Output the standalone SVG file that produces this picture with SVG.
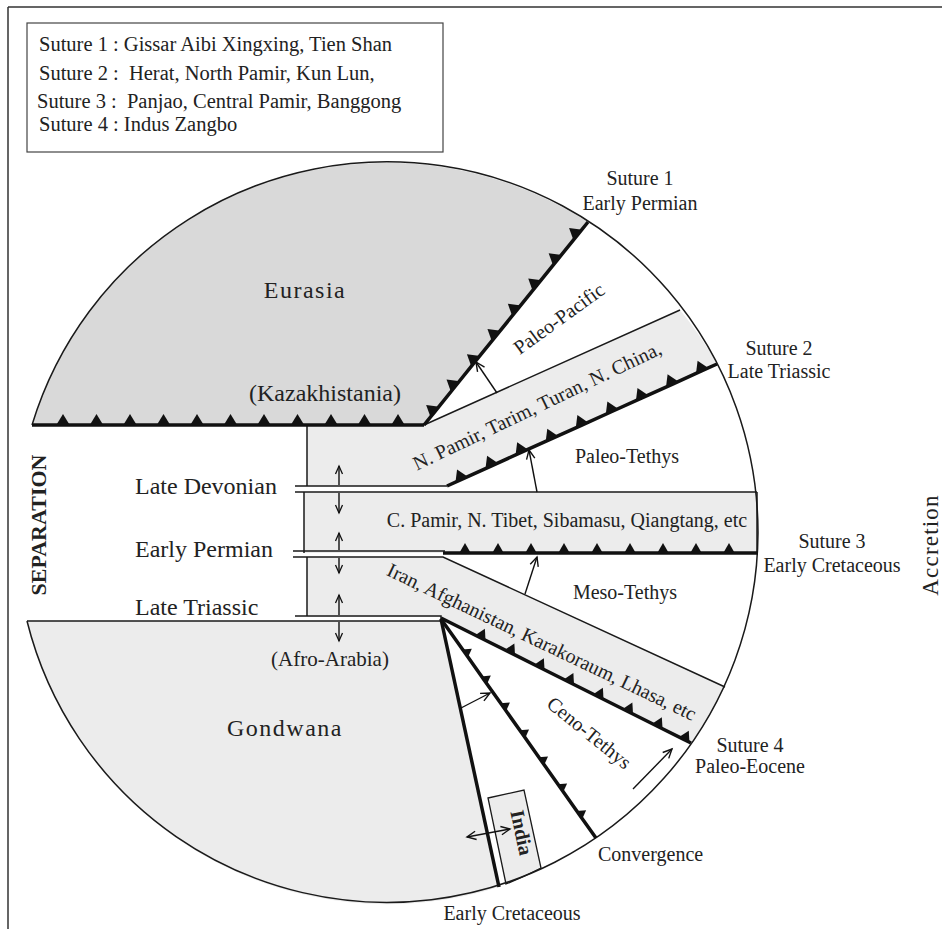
<svg xmlns="http://www.w3.org/2000/svg" width="943" height="929" viewBox="0 0 943 929">
<defs>
<style>
.t{font-family:"Liberation Serif","Times New Roman",serif;fill:#222;}
.f20{font-size:20px}
.lg{font-size:20.5px}
.f24{font-size:24px}
.sp{letter-spacing:1.5px}
.thin{fill:none;stroke:#1a1a1a;stroke-width:1.5}
.thick{fill:none;stroke:#111;stroke-width:3.5}
.arr{fill:none;stroke:#111;stroke-width:1.4;marker-end:url(#ah)}
.sarr{fill:none;stroke:#111;stroke-width:1.4;marker-end:url(#ahs)}
.light{fill:#ececec}
.dark{fill:#d9d9d9}
</style>
<marker id="tb" markerUnits="userSpaceOnUse" markerWidth="20" markerHeight="20" viewBox="-10 -15 20 20" refX="0" refY="0" orient="auto" overflow="visible"><path d="M-7,0.5 L0,-11 L7,0.5 Z" fill="#111"/></marker>
<marker id="tm" markerUnits="userSpaceOnUse" markerWidth="20" markerHeight="20" viewBox="-10 -15 20 20" refX="0" refY="0" orient="auto" overflow="visible"><path d="M-6,0.5 L0,-10 L6,0.5 Z" fill="#111"/></marker>
<marker id="ts" markerUnits="userSpaceOnUse" markerWidth="20" markerHeight="20" viewBox="-10 -15 20 20" refX="0" refY="0" orient="auto" overflow="visible"><path d="M-5,0.5 L0,-8 L5,0.5 Z" fill="#111"/></marker>
<marker id="ah" markerUnits="userSpaceOnUse" markerWidth="14" markerHeight="14" viewBox="-12 -7 14 14" refX="0" refY="0" orient="auto-start-reverse" overflow="visible"><path d="M-9,-4.2 L0,0 L-9,4.2" fill="none" stroke="#111" stroke-width="1.4"/></marker>
<marker id="ahs" markerUnits="userSpaceOnUse" markerWidth="14" markerHeight="14" viewBox="-12 -7 14 14" refX="0" refY="0" orient="auto-start-reverse" overflow="visible"><path d="M-8,-3.5 L0,0 L-8,3.5" fill="none" stroke="#111" stroke-width="1.3"/></marker>
</defs>
<rect width="943" height="929" fill="#fff"/>
<g id="frame">
<path d="M8,7 L942,7 M8,7 L8,929" fill="none" stroke="#333" stroke-width="1.5"/>
</g>
<g id="legend">
<rect x="27" y="23" width="416" height="129" fill="#fff" stroke="#444" stroke-width="1.2"/>
<text class="t lg" x="39" y="51" xml:space="preserve">Suture 1 : Gissar Aibi Xingxing, Tien Shan</text>
<text class="t lg" x="39" y="80" xml:space="preserve">Suture 2 :  Herat, North Pamir, Kun Lun,</text>
<text class="t lg" x="37" y="108" xml:space="preserve">Suture 3 :  Panjao, Central Pamir, Banggong</text>
<text class="t lg" x="39" y="131" xml:space="preserve">Suture 4 : Indus Zangbo</text>
</g>
<g id="eurasia">
<path class="dark" d="M32,425 A371,371 0 0,1 588,222 L424,425 Z"/>
<text class="t f24 sp" x="305" y="298" text-anchor="middle">Eurasia</text>
<text class="t f24" x="325" y="401" text-anchor="middle">(Kazakhistania)</text>
</g>
<g id="n-pamir-band">
<path class="light" d="M307,425 L424,425 L680,310 A371,371 0 0,1 717,364 L447,486 L307,486 Z"/>
<text class="t f20" x="540" y="412" text-anchor="middle" transform="rotate(-25.5 540 412)">N. Pamir, Tarim, Turan, N. China,</text>
</g>
<g id="c-pamir-band">
<rect class="light" x="304" y="492" width="453" height="61"/>
<text class="t f20" x="567" y="527" text-anchor="middle">C. Pamir, N. Tibet, Sibamasu, Qiangtang, etc</text>
</g>
<g id="iran-band">
<path class="light" d="M307,557 L443,557 L725,687 A371,371 0 0,1 691,743 L441,617 L307,617 Z"/>
<text class="t f20" x="539" y="648" text-anchor="middle" transform="rotate(25.5 539 648)">Iran, Afghanistan, Karakoraum, Lhasa, etc</text>
</g>
<g id="gondwana">
<path class="light" d="M27,621 L441,621 L499,887 A371,371 0 0,1 27,621 Z"/>
<text class="t f24 sp" x="285" y="736" text-anchor="middle">Gondwana</text>
<text class="t" x="330" y="666" font-size="21" text-anchor="middle">(Afro-Arabia)</text>
</g>
<g id="india">
<path d="M488,798 L524,790 L541,868 A371,371 0 0,1 506,884 Z" fill="#ececec" stroke="#1a1a1a" stroke-width="1.3"/>
<text class="t f20" x="515" y="834" text-anchor="middle" font-weight="bold" transform="rotate(78 515 834)">India</text>
</g>
<g id="outlines">
<path class="thin" d="M32,425 A371,371 0 0,1 758,533 A371,371 0 0,1 27,621"/>
<path class="thin" d="M424,425 L680,310 M307,425 L307,486 M295,486 L447,486 M295,492 L757,492 M304,492 L304,553 M757,492 L757,553 M293,551 L445,551 M293,557 L443,557 L725,687 M307,557 L307,616 M295,616 L441,616 L441,621 M27,621 L441,621"/>
</g>
<g id="sutures">
<path class="thick" marker-mid="url(#tb)" d="M32,425 L63,425 L96.5,425 L130,425 L163.5,425 L197,425 L230.5,425 L264,425 L297.5,425 L331,425 L364.5,425 L398,425 L424,425"/>
<path class="thick" marker-mid="url(#tb)" d="M424,425 L434.7,411.8 L455.1,386.5 L475.5,361.2 L496,335.9 L516.4,310.7 L536.8,285.4 L557.2,260.1 L577.6,234.8 L588,222"/>
<path class="thick" marker-mid="url(#tb)" d="M447,486 L461.6,479.4 L491.6,465.8 L521.7,452.2 L551.8,438.7 L581.9,425.1 L611.9,411.5 L642,397.9 L672.1,384.3 L702.1,370.7 L717,364"/>
<path class="thick" marker-mid="url(#tm)" d="M443,553 L465,553 L498,553 L531,553 L564,553 L597,553 L630,553 L663,553 L696,553 L729,553 L758,553"/>
<path class="thick" marker-mid="url(#tm)" d="M441,618 L480.4,637.7 L509.9,652.4 L539.4,667.2 L568.9,682 L598.4,696.7 L627.9,711.5 L657.4,726.2 L684.3,739.6 L691,743"/>
<path class="thick" marker-mid="url(#ts)" d="M441,619 L465.3,653.3 L484.3,680.2 L503.4,707.1 L522.5,734.1 L541.5,761 L560.6,788 L579.6,814.9 L596,838"/>
<path class="thick" d="M441,619 L499,887"/>
</g>
<g id="connectors">
<path class="arr" d="M497,393 L476,362"/>
<path class="arr" d="M537,492 L529,450"/>
<path class="arr" d="M525,594 L537,557"/>
<path class="arr" d="M633,789 L672,749"/>
<path class="arr" d="M461,708 L490,693"/>
<path class="arr" marker-start="url(#ah)" d="M467,837 L510,829"/>
<path class="sarr" d="M339,485 L339,466"/>
<path class="sarr" d="M339,493 L339,513"/>
<path class="sarr" d="M339,550 L339,533"/>
<path class="sarr" d="M339,558 L339,573"/>
<path class="sarr" d="M339,615 L339,595"/>
<path class="sarr" d="M339,622 L339,641"/>
</g>
<g id="labels">
<text class="t f20" x="563" y="324" text-anchor="middle" transform="rotate(-36 563 324)">Paleo-Pacific</text>
<text class="t f20" x="627" y="463" text-anchor="middle">Paleo-Tethys</text>
<text class="t f20" x="625" y="599" text-anchor="middle">Meso-Tethys</text>
<text class="t f20" x="585" y="738" text-anchor="middle" transform="rotate(39 585 738)">Ceno-Tethys</text>
<text class="t f20" x="640" y="185" text-anchor="middle">Suture 1</text>
<text class="t f20" x="640" y="210" text-anchor="middle">Early Permian</text>
<text class="t f20" x="779" y="355" text-anchor="middle">Suture 2</text>
<text class="t f20" x="779" y="378" text-anchor="middle">Late Triassic</text>
<text class="t f20" x="832" y="548" text-anchor="middle">Suture 3</text>
<text class="t f20" x="832" y="572" text-anchor="middle">Early Cretaceous</text>
<text class="t f20" x="750" y="752" text-anchor="middle">Suture 4</text>
<text class="t f20" x="750" y="773" text-anchor="middle">Paleo-Eocene</text>
<text class="t f20" x="598" y="861" text-anchor="start">Convergence</text>
<text class="t f20" x="512" y="920" text-anchor="middle">Early Cretaceous</text>
<text class="t f24" x="135" y="494">Late Devonian</text>
<text class="t f24" x="135" y="557">Early Permian</text>
<text class="t f24" x="135" y="615">Late Triassic</text>
<text class="t" x="46" y="525" font-size="22" font-weight="bold" text-anchor="middle" transform="rotate(-90 46 525)">SEPARATION</text>
<text class="t" x="938" y="545" font-size="23" letter-spacing="1.2" text-anchor="middle" transform="rotate(-90 938 545)">Accretion</text>
</g>
</svg>
